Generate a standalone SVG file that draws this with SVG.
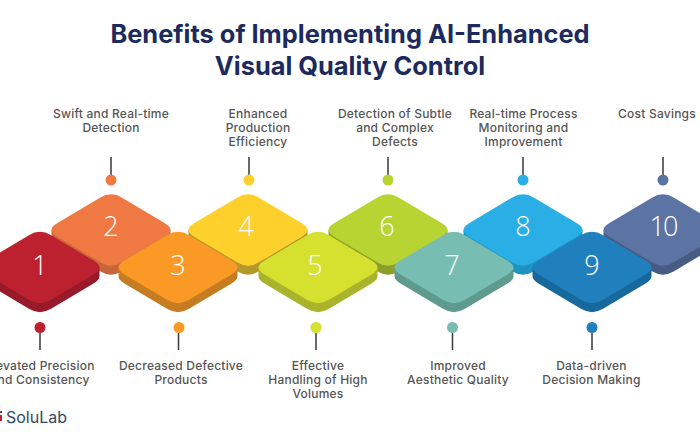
<svg xmlns="http://www.w3.org/2000/svg" xmlns:xlink="http://www.w3.org/1999/xlink" width="700" height="441" viewBox="0 0 700 441">
<style>
.title{font:700 25.4px "Inter","Liberation Sans",sans-serif;fill:#1c2a5e;text-anchor:middle}
.lab{font:500 12px "Inter","Liberation Sans",sans-serif;letter-spacing:.22px;fill:#555;text-anchor:middle}
.num{font:300 27px "Open Sans","Liberation Sans",sans-serif;fill:#fff;text-anchor:middle}
.stem{stroke:#3a3a3a;stroke-width:1.5;fill:none}
</style>
<defs>
<path id="d" d="M-11.050-32.370Q0-39 11.050-32.370L53.950-6.630Q65 0 53.950 6.630L11.050 32.370Q0 39-11.050 32.370L-53.950 6.630Q-65 0-53.950-6.630Z"/>
<path id="s" d="M-59.475 0V9Q-59.475 12.315-53.950 15.630L-11.050 41.370Q0 48 11.050 41.370L53.950 15.630Q59.475 12.315 59.475 9V0Z"/>
</defs>
<rect width="700" height="441" fill="#fff"/>
<g id="title">
<text class="title" x="350" y="43">Benefits of Implementing AI-Enhanced</text>
<text class="title" x="350" y="75">Visual Quality Control</text>
</g>
<g id="connectors">
<path class="stem" d="M111 157V175M249 157V175M388 157V175M523 157V175M663 157V175M40 333V350M178.500 333V350M316 333V350M452.500 333V350M592 333V350"/>
</g>
<g id="node2"><use href="#s" x="111" y="230" fill="#c7663a"/><use href="#d" x="111" y="230" fill="#f07843"/><text class="num" x="111" y="235.500">2</text><circle cx="111" cy="180" r="5.500" fill="#f07843"/><text class="lab" x="111" y="118">Swift and Real-time</text><text class="lab" x="111" y="132">Detection</text></g>
<g id="node4"><use href="#s" x="248" y="230" fill="#b5982a"/><use href="#d" x="248" y="230" fill="#fdd02c"/><text class="num" x="246" y="235.500">4</text><circle cx="249" cy="180" r="5.500" fill="#fdd02c"/><text class="lab" x="258" y="118">Enhanced</text><text class="lab" x="258" y="132">Production</text><text class="lab" x="258" y="146">Efficiency</text></g>
<g id="node6"><use href="#s" x="388" y="230" fill="#8c9f28"/><use href="#d" x="388" y="230" fill="#b7d433"/><text class="num" x="387" y="235.500">6</text><circle cx="388" cy="180" r="5.500" fill="#b7d433"/><text class="lab" x="395" y="118">Detection of Subtle</text><text class="lab" x="395" y="132">and Complex</text><text class="lab" x="395" y="146">Defects</text></g>
<g id="node8"><use href="#s" x="523" y="230" fill="#1e93c0"/><use href="#d" x="523" y="230" fill="#2aaee6"/><text class="num" x="523" y="235.500">8</text><circle cx="523" cy="180" r="5.500" fill="#2aaee6"/><text class="lab" x="523.500" y="118">Real-time Process</text><text class="lab" x="523.500" y="132">Monitoring and</text><text class="lab" x="523.500" y="146">Improvement</text></g>
<g id="node10"><use href="#s" x="663" y="230" fill="#475c82"/><use href="#d" x="663" y="230" fill="#5c74a4"/><text class="num" x="663" y="235.500" style="letter-spacing:-2px">10</text><circle cx="663" cy="180" r="5.500" fill="#5c74a4"/><text class="lab" x="657" y="118">Cost Savings</text></g>
<g id="node1"><use href="#s" x="40" y="267.500" fill="#97192a"/><use href="#d" x="40" y="267.500" fill="#bd202e"/><text class="num" x="40" y="275">1</text><circle cx="40" cy="327.500" r="5.500" fill="#bd202e"/><text class="lab" x="40" y="370">Elevated Precision</text><text class="lab" x="40" y="384">and Consistency</text></g>
<g id="node3"><use href="#s" x="178" y="267.500" fill="#c67d22"/><use href="#d" x="178" y="267.500" fill="#fb9926"/><text class="num" x="178" y="275">3</text><circle cx="179" cy="327.500" r="5.500" fill="#fb9926"/><text class="lab" x="181" y="370">Decreased Defective</text><text class="lab" x="181" y="384">Products</text></g>
<g id="node5"><use href="#s" x="318" y="267.500" fill="#a9b42c"/><use href="#d" x="318" y="267.500" fill="#d5e02f"/><text class="num" x="315" y="275">5</text><circle cx="316" cy="327.500" r="5.500" fill="#d5e02f"/><text class="lab" x="318" y="370">Effective</text><text class="lab" x="318" y="384">Handling of High</text><text class="lab" x="318" y="398">Volumes</text></g>
<g id="node7"><use href="#s" x="454" y="267.500" fill="#5f9a8e"/><use href="#d" x="454" y="267.500" fill="#78bdb2"/><text class="num" x="452" y="275">7</text><circle cx="452.500" cy="327.500" r="5.500" fill="#78bdb2"/><text class="lab" x="458" y="370">Improved</text><text class="lab" x="458" y="384">Aesthetic Quality</text></g>
<g id="node9"><use href="#s" x="592" y="267.500" fill="#17689c"/><use href="#d" x="592" y="267.500" fill="#2080bd"/><text class="num" x="592" y="275">9</text><circle cx="592" cy="327.500" r="5.500" fill="#2080bd"/><text class="lab" x="591.500" y="370">Data-driven</text><text class="lab" x="591.500" y="384">Decision Making</text></g>
<g id="logo"><rect x="0" y="411" width="2" height="2" fill="#bd202e"/><rect x="0" y="415" width="2" height="6" fill="#bd202e"/><text x="6" y="423" style="font:400 16px Inter,'Liberation Sans',sans-serif;fill:#34495e">SoluLab</text></g>
</svg>
